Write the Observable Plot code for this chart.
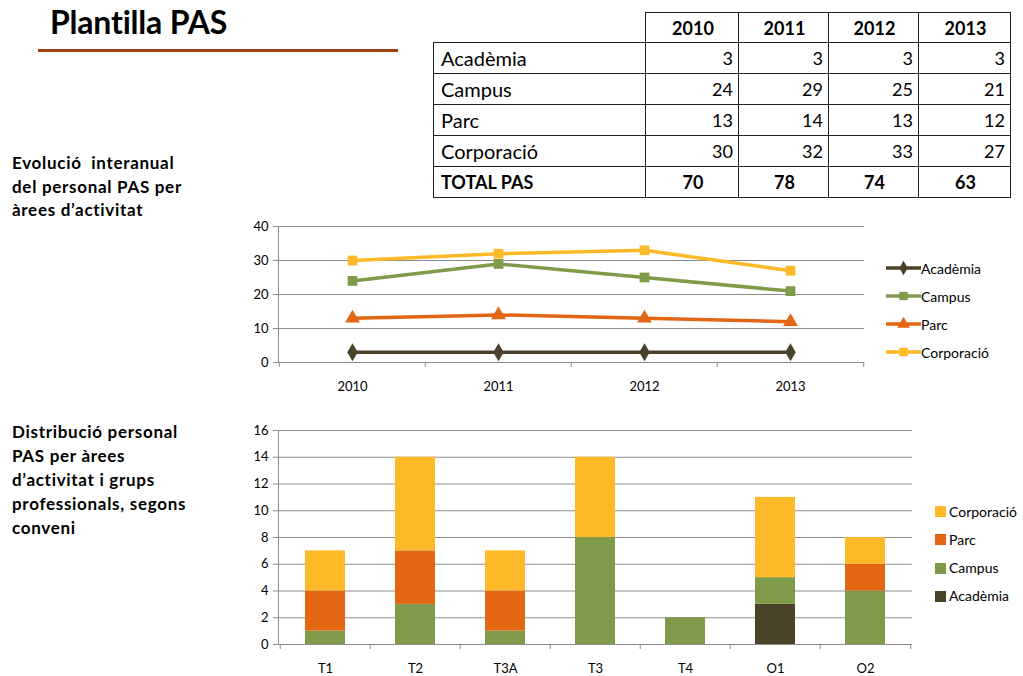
<!DOCTYPE html>
<html><head><meta charset="utf-8">
<script src="https://cdn.jsdelivr.net/npm/d3@7"></script>
<script src="https://cdn.jsdelivr.net/npm/@observablehq/plot@0.6"></script>
<style>
body{margin:0;width:1023px;height:676px;position:relative;background:#fff;font-family:Lato,"Open Sans",sans-serif;color:#000;overflow:hidden}
#title{position:absolute;left:50px;top:2px;font-size:32px;font-weight:700;letter-spacing:-0.2px}
#hr{position:absolute;left:38px;top:49px;width:360px;height:3px;background:#a0420f}
#tbl{position:absolute;left:433px;top:12px;border-collapse:collapse;font-size:18px}
#tbl td{border:1.5px solid #222;height:31px;padding:0 5px 0 7px;line-height:20px;box-sizing:border-box}
#tbl td.name{font-size:20px}
#tbl td.num{text-align:right}
#tbl tr.head td{font-weight:700;text-align:center;height:30px}
#tbl tr.tot td{font-weight:700;text-align:center}
#tbl tr.tot td:first-child{text-align:left;font-size:18px}
#tbl td.blank{border-top:none;border-left:none}
.lbl{position:absolute;left:12px;font-size:17px;letter-spacing:0.7px;font-weight:700;line-height:23.5px}
#lbl1{top:151px}
#lbl2{top:420px;line-height:24px}
#line{position:absolute;left:230px;top:215px}
#bar{position:absolute;left:230px;top:420px}
.leg{position:absolute;font-size:14px}
.leg .it{position:absolute;left:0;white-space:nowrap;display:flex;align-items:center;height:16px}
.leg svg{display:block}
</style></head><body>
<div id="title">Plantilla PAS</div>
<div id="hr"></div>
<table id="tbl"></table>
<div class="lbl" id="lbl1">Evolució&nbsp; interanual<br>del personal PAS per<br>àrees d’activitat</div>
<div class="lbl" id="lbl2">Distribució personal<br>PAS per àrees<br>d’activitat i grups<br>professionals, segons<br>conveni</div>
<div id="line"></div>
<div class="leg" id="leg1" style="left:886px;top:260px"></div>
<div id="bar"></div>
<div class="leg" id="leg2" style="left:934px;top:503px"></div>
<script>
// ---- data ----
const years = ["2010", "2011", "2012", "2013"];
const areas = ["Acadèmia", "Campus", "Parc", "Corporació"];
const academia = [3, 3, 3, 3];
const campus = [24, 29, 25, 21];
const parc = [13, 14, 13, 12];
const corporacio = [30, 32, 33, 27];
const totalLabel = "TOTAL PAS";
const totals = [70, 78, 74, 63];

const groups = ["T1", "T2", "T3A", "T3", "T4", "O1", "O2"];
const grpAcademia = [0, 0, 0, 0, 0, 3, 0];
const grpCampus = [1, 3, 1, 8, 2, 2, 4];
const grpParc = [3, 4, 3, 0, 0, 0, 2];
const grpCorporacio = [3, 7, 3, 6, 0, 6, 2];

const lineTicks = [0, 10, 20, 30, 40];
const barTicks = [0, 2, 4, 6, 8, 10, 12, 14, 16];

const colors = ["#4b4329", "#7f9b49", "#e36613", "#fdb927"];
const symbols = ["diamond", "square", "triangle", "square"];

const font = "Lato, 'Open Sans', sans-serif";
const grid = "#8c8c8c";

// ---- table ----
const lineSeries = [academia, campus, parc, corporacio];
const tbl = document.getElementById("tbl");
const widths = [212, 93, 90, 90, 92];
let html = '<tr class="head"><td class="blank" style="width:' + widths[0] + 'px"></td>' +
  years.map((y, i) => '<td style="width:' + widths[i+1] + 'px">' + y + '</td>').join("") + '</tr>';
areas.forEach((a, k) => {
  html += '<tr><td class="name">' + a + '</td>' + lineSeries[k].map(v => '<td class="num">' + v + '</td>').join("") + '</tr>';
});
html += '<tr class="tot"><td>' + totalLabel + '</td>' + totals.map(v => '<td>' + v + '</td>').join("") + '</tr>';
tbl.innerHTML = html;

// ---- line chart ----
const lineData = areas.flatMap((a, k) => years.map((y, i) => ({area: a, year: y, value: lineSeries[k][i]})));
const W1 = 640, H1 = 185, mL1 = 48, mR1 = 6;
const step1 = (W1 - mL1 - mR1) / years.length;
const line = Plot.plot({
  width: W1, height: H1, marginLeft: mL1, marginRight: mR1, marginTop: 11, marginBottom: 38,
  style: {fontFamily: font, fontSize: "13px", color: "#000", overflow: "visible", background: "transparent"},
  x: {type: "point", domain: years, padding: 0.5, label: null},
  y: {domain: [0, 40], label: null},
  color: {domain: areas, range: colors},
  symbol: {domain: areas, range: symbols},
  marks: [
    Plot.gridY(lineTicks, {stroke: grid, strokeOpacity: 1}),
    Plot.frame({anchor: "left", stroke: grid}),
    Plot.axisY(lineTicks, {tickSize: 5, tickPadding: 5, stroke: grid, fill: "#000", label: null}),
    Plot.axisX(years, {tickSize: 5, dx: -step1 / 2, tickFormat: () => "", stroke: grid, label: null}),
    Plot.axisX([years[years.length - 1]], {tickSize: 5, dx: step1 / 2, tickFormat: () => "", stroke: grid, label: null}),
    Plot.axisX(years, {tickSize: 0, tickPadding: 19, fill: "#000", label: null}),
    Plot.line(lineData, {x: "year", y: "value", z: "area", stroke: "area", strokeWidth: 3.5}),
    Plot.dot(lineData, {x: "year", y: "value", symbol: "area", fill: "area", r: 5.5})
  ]
});
document.getElementById("line").append(line);

// line legend
const leg1 = document.getElementById("leg1");
areas.forEach((a, k) => {
  const d = document.createElement("div");
  d.className = "it";
  d.style.top = (k * 28) + "px";
  const sym = d3.symbol(k === 0 ? d3.symbolDiamond : k === 2 ? d3.symbolTriangle : d3.symbolSquare, k === 0 ? 60 : 70)();
  d.innerHTML = '<svg width="35" height="16"><line x1="0" x2="35" y1="8" y2="8" stroke="' + colors[k] + '" stroke-width="3.5"/>' +
    '<path d="' + sym + '" transform="translate(17.5,8)" fill="' + colors[k] + '"/></svg><span>' + a + '</span>';
  leg1.append(d);
});

// ---- bar chart ----
const barSeries = [grpAcademia, grpCampus, grpParc, grpCorporacio];
const barData = areas.flatMap((a, k) => groups.map((g, i) => ({area: a, group: g, value: barSeries[k][i]})));
const W2 = 690, H2 = 256, mL2 = 48, mR2 = 8;
const step2 = (W2 - mL2 - mR2) / groups.length;
const bar = Plot.plot({
  width: W2, height: H2, marginLeft: mL2, marginRight: mR2, marginTop: 10, marginBottom: 32,
  style: {fontFamily: font, fontSize: "13px", color: "#000", overflow: "visible", background: "transparent"},
  x: {type: "band", domain: groups, paddingInner: 0.56, paddingOuter: 0.28, label: null},
  y: {domain: [0, 16], label: null},
  color: {domain: areas, range: colors},
  marks: [
    Plot.gridY(barTicks, {stroke: grid, strokeOpacity: 1}),
    Plot.frame({anchor: "left", stroke: grid}),
    Plot.axisY(barTicks, {tickSize: 5, tickPadding: 5, stroke: grid, fill: "#000", label: null}),
    Plot.axisX(groups, {tickSize: 5, dx: -step2 / 2, tickFormat: () => "", stroke: grid, label: null}),
    Plot.axisX([groups[groups.length - 1]], {tickSize: 5, dx: step2 / 2, tickFormat: () => "", stroke: grid, label: null}),
    Plot.axisX(groups, {tickSize: 0, tickPadding: 19, fill: "#000", label: null}),
    Plot.barY(barData, {x: "group", y: "value", fill: "area"})
  ]
});
document.getElementById("bar").append(bar);

// bar legend (reverse order as in reference)
const leg2 = document.getElementById("leg2");
areas.slice().reverse().forEach((a, j) => {
  const k = areas.indexOf(a);
  const d = document.createElement("div");
  d.className = "it";
  d.style.top = (j * 28.3) + "px";
  d.innerHTML = '<svg width="15" height="16"><rect x="1" y="3" width="11" height="11" fill="' + colors[k] + '"/></svg><span>' + a + '</span>';
  leg2.append(d);
});
</script>
</body></html>
